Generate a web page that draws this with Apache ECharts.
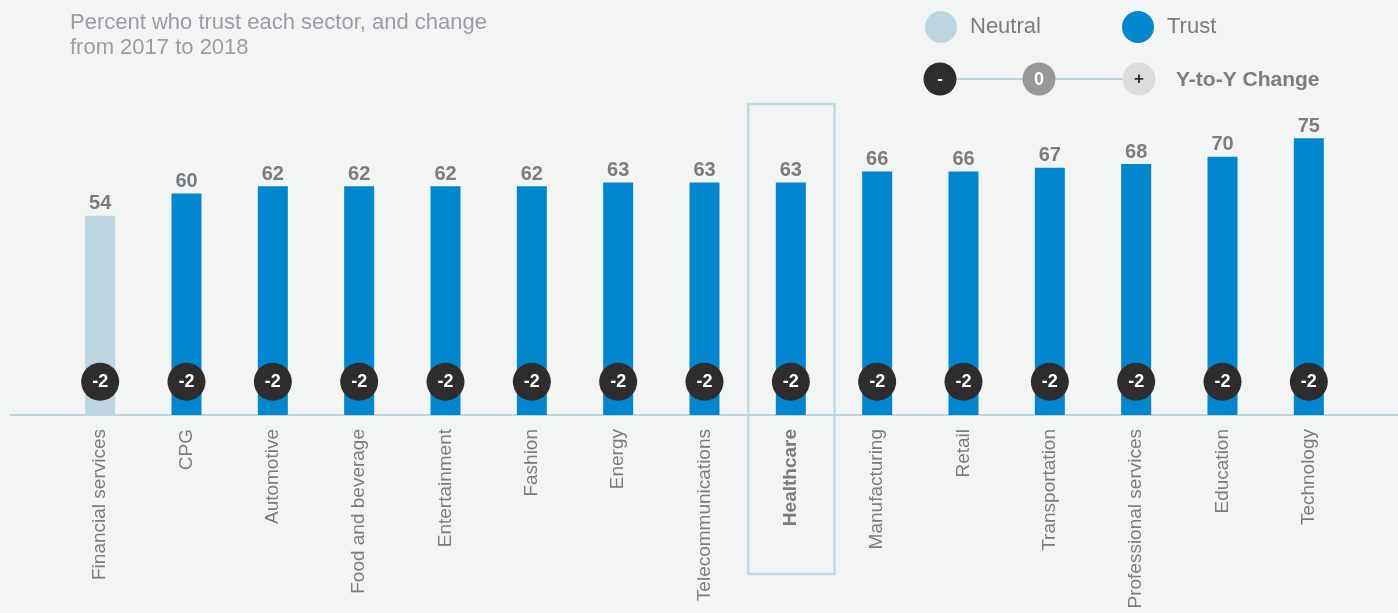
<!DOCTYPE html>
<html>
<head>
<meta charset="utf-8">
<script src="https://cdn.jsdelivr.net/npm/echarts@6/dist/echarts.min.js"></script>
<style>
html,body{margin:0;padding:0;background:#f3f4f4;}
#chart{width:1398px;height:613px;}
</style>
</head>
<body>
<div id="chart"></div>
<script>
const categories = ["Financial services","CPG","Automotive","Food and beverage","Entertainment","Fashion","Energy","Telecommunications","Healthcare","Manufacturing","Retail","Transportation","Professional services","Education","Technology"];
const trustValues = [54,60,62,62,62,62,63,63,63,66,66,67,68,70,75];
const trustStatus = ["Neutral","Trust","Trust","Trust","Trust","Trust","Trust","Trust","Trust","Trust","Trust","Trust","Trust","Trust","Trust"];
const changes = [-2,-2,-2,-2,-2,-2,-2,-2,-2,-2,-2,-2,-2,-2,-2];
const highlighted = "Healthcare";
const titleText = "Percent who trust each sector, and change\nfrom 2017 to 2018";

const C_TRUST = "#0087cf";
const C_NEUTRAL = "#bcd5df";
const C_DARK = "#2e2c2d";
const C_TEXT = "#7c7c80";
const FONT = "'Liberation Sans', Arial, Helvetica, sans-serif";
const CIRCLE_LEVEL = 9; // vertical level for change markers

const chart = echarts.init(document.getElementById('chart'));

const neutralData = trustValues.map((v,i)=> trustStatus[i]==="Neutral" ? v : '-');
const trustData = trustValues.map((v,i)=> trustStatus[i]==="Trust" ? v : '-');

const valueLabel = {
  show: true, position: 'top', distance: 2,
  color: C_TEXT, fontSize: 20, fontWeight: 'bold', fontFamily: FONT
};
const legendText = {color: C_TEXT, fontSize: 22, fontFamily: FONT, padding: [3,0,0,8]};

const option = {
  backgroundColor: '#f3f4f4',
  animation: false,
  title: {
    text: titleText, left: 70, top: 10, padding: 0,
    textStyle: {color: '#9c9ca6', fontSize: 22, fontWeight: 'normal', fontFamily: FONT, lineHeight: 25}
  },
  legend: [
    {data: ['Neutral'], left: 925, top: 11, padding: 0, icon: 'circle', itemWidth: 32, itemHeight: 32,
     textStyle: legendText, selectedMode: false},
    {data: ['Trust'], left: 1122, top: 11, padding: 0, icon: 'circle', itemWidth: 32, itemHeight: 32,
     textStyle: legendText, selectedMode: false}
  ],
  grid: {left: 57, right: 46, top: 46, bottom: 198},
  xAxis: {
    type: 'category', data: categories,
    axisLine: {show: false}, axisTick: {show: false},
    axisLabel: {
      rotate: 90, margin: 14, fontSize: 19, fontFamily: FONT, color: C_TEXT, interval: 0,
      formatter: v => v === highlighted ? '{b|' + v + '}' : v,
      rich: {b: {fontWeight: 'bold', fontSize: 19, fontFamily: FONT, color: C_TEXT}}
    }
  },
  yAxis: {type: 'value', min: 0, max: 100, show: false, splitLine: {show: false}},
  series: [
    {name: 'Neutral', type: 'bar', data: neutralData, barWidth: 30, barGap: '-100%',
     itemStyle: {color: C_NEUTRAL}, label: valueLabel},
    {name: 'Trust', type: 'bar', data: trustData, barWidth: 30,
     itemStyle: {color: C_TRUST}, label: valueLabel},
    {name: 'Change', type: 'scatter', symbol: 'circle', symbolSize: 38,
     data: changes.map((c,i)=> [i, CIRCLE_LEVEL]),
     itemStyle: {color: C_DARK, opacity: 1}, z: 5,
     label: {show: true, position: 'inside', color: '#fff', fontSize: 18, fontWeight: 'bold', fontFamily: FONT,
       formatter: p => (changes[p.dataIndex] > 0 ? '+' : '') + changes[p.dataIndex]}
    }
  ]
};
chart.setOption(option);

// decorations computed from the axes
const base = chart.convertToPixel({gridIndex: 0}, [0, 0]);
const hIdx = categories.indexOf(highlighted);
const hc = chart.convertToPixel({gridIndex: 0}, [hIdx, 0]);
const step = chart.convertToPixel({gridIndex: 0}, [1, 0])[0] - chart.convertToPixel({gridIndex: 0}, [0, 0])[0];

chart.setOption({
  graphic: [
    {type: 'line', shape: {x1: 10, y1: base[1], x2: 1398, y2: base[1]}, style: {stroke: C_NEUTRAL, lineWidth: 2}, z: 1},
    {type: 'rect', shape: {x: hc[0] - step/2 + 0.5, y: 104, width: step, height: 470},
     style: {fill: 'none', stroke: '#c3dae3', lineWidth: 2.5}, z: 0},
    // Y-to-Y change legend
    {type: 'line', shape: {x1: 940, y1: 79, x2: 1139, y2: 79}, style: {stroke: C_NEUTRAL, lineWidth: 2}},
    {type: 'circle', shape: {cx: 940, cy: 79, r: 16.5}, style: {fill: C_DARK}},
    {type: 'text', x: 940, y: 79, style: {text: '-', fill: '#fff', font: 'bold 17px ' + FONT, align: 'center', verticalAlign: 'middle'}},
    {type: 'circle', shape: {cx: 1039, cy: 79, r: 16.5}, style: {fill: '#98989b'}},
    {type: 'text', x: 1039, y: 80, style: {text: '0', fill: '#fff', font: 'bold 18px ' + FONT, align: 'center', verticalAlign: 'middle'}},
    {type: 'circle', shape: {cx: 1139, cy: 79, r: 16.5}, style: {fill: '#dcdcde'}},
    {type: 'text', x: 1139, y: 79, style: {text: '+', fill: C_DARK, font: 'bold 17px ' + FONT, align: 'center', verticalAlign: 'middle'}},
    {type: 'text', x: 1176, y: 80, style: {text: 'Y-to-Y Change', fill: C_TEXT, font: 'bold 21px ' + FONT, align: 'left', verticalAlign: 'middle'}}
  ]
});
</script>
</body>
</html>
